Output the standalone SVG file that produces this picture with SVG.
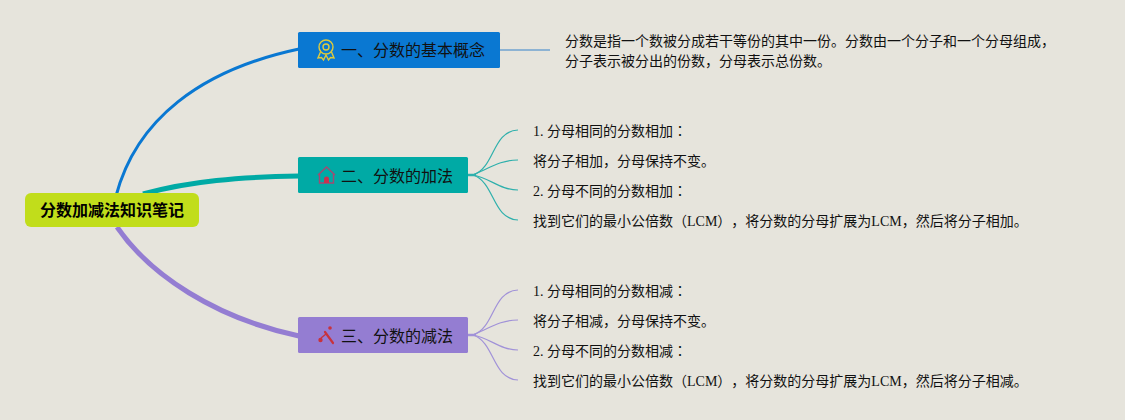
<svg xmlns="http://www.w3.org/2000/svg" width="1125" height="420" viewBox="0 0 1125 420">
<style>
text{font-family:"Liberation Serif","Noto Sans CJK SC",serif;fill:#111;text-spacing-trim:space-all}
.t{font-size:16px}
.r{font-size:16px;font-weight:700;fill:#000;font-family:"Noto Sans CJK SC",sans-serif}
.l{font-size:14px}
.j{font-family:"Noto Sans CJK JP",sans-serif}
.c{fill:none;stroke-linecap:butt}
.ic{fill:none;stroke-width:1.4}
</style>
<rect width="1125" height="420" fill="#e6e4dc"/>
<g id="connectors">
<path class="c" d="M116 196C136 120 200 70 299 49" stroke="#0a78d2" stroke-width="3"/>
<path class="c" d="M143 194C190 181 240 177 299 176" stroke="#00aaa5" stroke-width="5"/>
<path class="c" d="M117 227C150 275 215 318 299 336" stroke="#947dd2" stroke-width="5"/>
<path class="c" d="M500 50H550" stroke="#6fa3d0" stroke-width="1.500"/>
<g stroke="#2fb0ac" stroke-width="1.200" class="c">
<path d="M468 175H476" stroke-width="2.500"/>
<path d="M473 175C495 168 492 131 518 130"/>
<path d="M473 175C490 168 500 160 518 160"/>
<path d="M473 175C490 178 500 190 518 190"/>
<path d="M473 175C495 182 492 219 518 220"/>
</g>
<g stroke="#a192d8" stroke-width="1.200" class="c">
<path d="M468 335H476" stroke-width="2.500"/>
<path d="M473 335C495 328 492 291 518 290"/>
<path d="M473 335C490 328 500 320 518 320"/>
<path d="M473 335C490 338 500 350 518 350"/>
<path d="M473 335C495 342 492 379 518 380"/>
</g>
</g>
<g id="root">
<rect x="25" y="193" width="174" height="34" rx="6" fill="#c1dd1b"/>
<text class="r" x="40" y="216">分数加减法知识笔记</text>
</g>
<g id="topic1">
<rect x="298" y="32" width="202" height="36" rx="1.500" fill="#0a78d2"/>
<g stroke="#e0cb3c" class="ic">
<circle cx="326" cy="47" r="7"/>
<circle cx="326" cy="47" r="3"/>
<path d="M320.500 52L318 58L321.500 57.500L323.500 60L326 55L328.500 60L330.500 57.500L334 58L331.500 52"/>
</g>
<text class="t" x="341" y="56">一、分数的基本概念</text>
</g>
<g id="detail1">
<text class="l" x="565" y="46">分数是指一个数被分成若干等份的其中一份。分数由一个分子和一个分母组成，</text>
<text class="l" x="565" y="66">分子表示被分出的份数，分母表示总份数。</text>
</g>
<g id="topic2">
<rect x="298" y="157" width="170" height="36" rx="1.500" fill="#00aaa5"/>
<path class="ic" stroke="#a34a72" d="M318 175L326.500 167L335 175M319.500 174V183H333.500V174"/>
<path d="M324 183V179a2.500 2.500 0 0 1 5 0V183Z" fill="#c8324f"/>
<text class="t" x="341" y="182">二、分数的加法</text>
</g>
<g id="topic3">
<rect x="298" y="317" width="170" height="36" rx="1.500" fill="#947dd2"/>
<path d="M325 332L333 343" stroke="#c8323c" stroke-width="2.200" stroke-linecap="round"/>
<circle cx="320.500" cy="340" r="2.200" fill="#c8323c"/>
<circle cx="330" cy="328" r="1.800" fill="#c8323c"/>
<path d="M321 338L326 334" stroke="#c8323c" stroke-width="1.500"/>
<text class="t" x="341" y="342">三、分数的减法</text>
</g>
<g id="leaves2">
<text class="l" x="533" y="136">1. 分母相同的分数相加<tspan class="j">：</tspan></text>
<text class="l" x="533" y="166">将分子相加，分母保持不变。</text>
<text class="l" x="533" y="196">2. 分母不同的分数相加<tspan class="j">：</tspan></text>
<text class="l" x="533" y="226">找到它们的最小公倍数（LCM），将分数的分母扩展为LCM，然后将分子相加。</text>
</g>
<g id="leaves3">
<text class="l" x="533" y="296">1. 分母相同的分数相减<tspan class="j">：</tspan></text>
<text class="l" x="533" y="326">将分子相减，分母保持不变。</text>
<text class="l" x="533" y="356">2. 分母不同的分数相减<tspan class="j">：</tspan></text>
<text class="l" x="533" y="386">找到它们的最小公倍数（LCM），将分数的分母扩展为LCM，然后将分子相减。</text>
</g>
</svg>
